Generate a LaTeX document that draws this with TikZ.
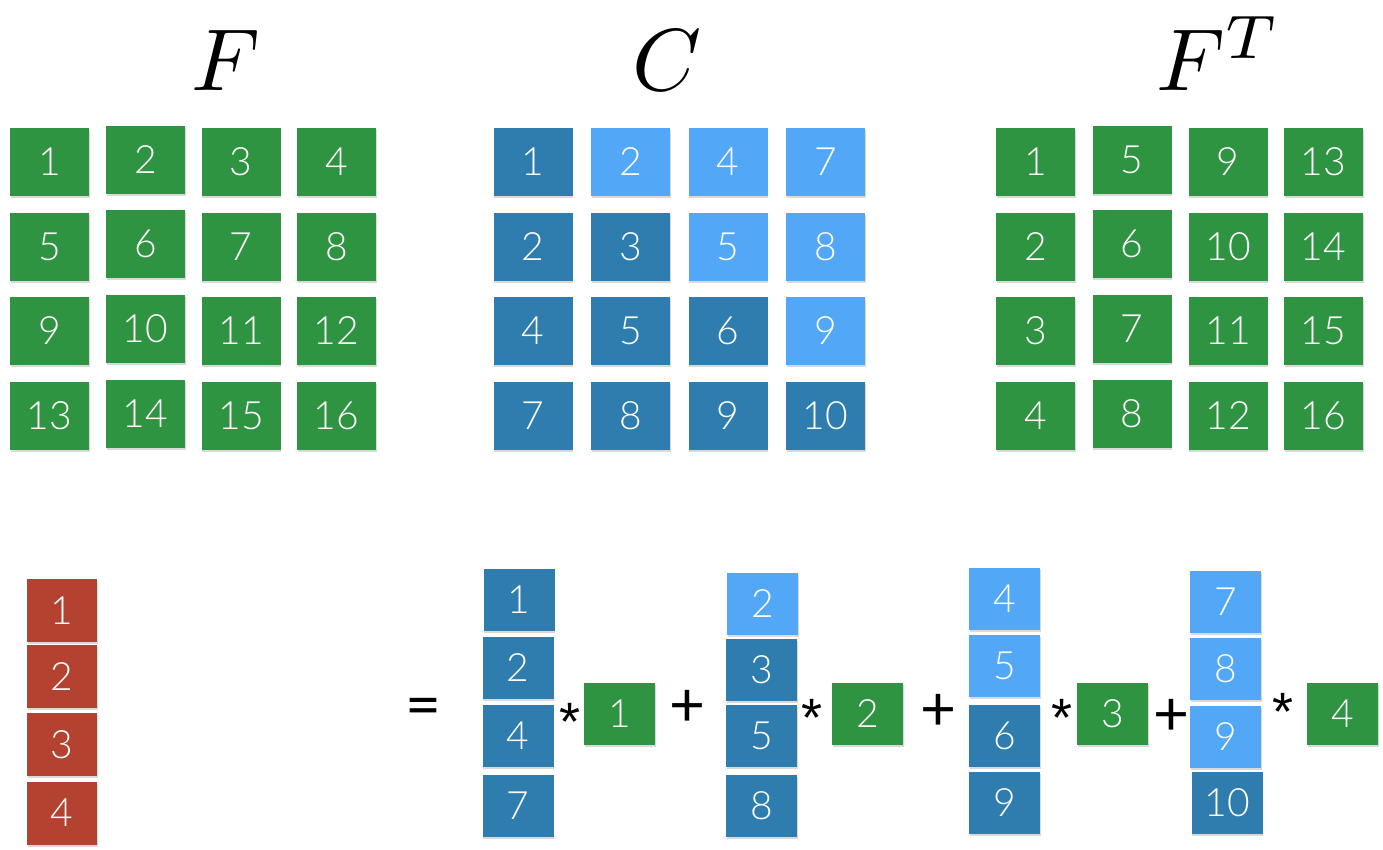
\documentclass[tikz,border=0pt]{standalone}
\usepackage{fontspec}
\newfontfamily\numfont{Lato Light}
\newfontfamily\opfont{Lato}
\newfontfamily\starfont{Liberation Sans}
\usetikzlibrary{shadows}
\definecolor{tgreen}{RGB}{47,148,66}
\definecolor{tdark}{RGB}{46,125,174}
\definecolor{tlight}{RGB}{82,167,247}
\definecolor{tred}{RGB}{180,66,49}
\tikzset{
  tile/.style={minimum width=79pt, minimum height=68pt, inner sep=0pt, text=white,
    font=\numfont\fontsize{39}{39}\selectfont,
    drop shadow={shadow xshift=0.6pt, shadow yshift=-2pt, opacity=0.15, fill=black}},
  small/.style={tile, minimum width=71pt, minimum height=62pt},
  redt/.style={tile, minimum width=70pt, minimum height=63pt, fill=tred},
  grn/.style={fill=tgreen},
  dkb/.style={fill=tdark},
  ltb/.style={fill=tlight},
  title/.style={anchor=base, inner sep=0pt, scale=8.8, transform shape},
  op/.style={inner sep=0pt, font=\opfont\fontsize{62}{62}\selectfont},
  star/.style={inner sep=0pt, font=\starfont\fontsize{54}{54}\selectfont}
}
\begin{document}
\begin{tikzpicture}[x=1pt,y=-1pt]
\useasboundingbox[fill=white] (0,0) rectangle (1383,849);
% titles
\node[title] (tF) at (226,90) {$F$};
\node[title] (tC) at (667,90) {$C$};
\node[title] (tFT) at (1219,90) {$F^T$};
% F matrix
\node[tile,grn] (f1) at (49.5,162) {1};
\node[tile,grn] (f2) at (145.5,159.5) {2};
\node[tile,grn] (f3) at (241,162) {3};
\node[tile,grn] (f4) at (336.5,162) {4};
\node[tile,grn] (f5) at (49.5,246.5) {5};
\node[tile,grn] (f6) at (145.5,244) {6};
\node[tile,grn] (f7) at (241,246.5) {7};
\node[tile,grn] (f8) at (336.5,246.5) {8};
\node[tile,grn] (f9) at (49.5,331) {9};
\node[tile,grn] (f10) at (145.5,328.5) {10};
\node[tile,grn] (f11) at (241,331) {11};
\node[tile,grn] (f12) at (336.5,331) {12};
\node[tile,grn] (f13) at (49.5,416) {13};
\node[tile,grn] (f14) at (145.5,413.5) {14};
\node[tile,grn] (f15) at (241,416) {15};
\node[tile,grn] (f16) at (336.5,416) {16};
% C matrix
\node[tile,dkb] (c11) at (533,162) {1};
\node[tile,ltb] (c12) at (630.5,162) {2};
\node[tile,ltb] (c13) at (728,162) {4};
\node[tile,ltb] (c14) at (825.5,162) {7};
\node[tile,dkb] (c21) at (533,246.5) {2};
\node[tile,dkb] (c22) at (630.5,246.5) {3};
\node[tile,ltb] (c23) at (728,246.5) {5};
\node[tile,ltb] (c24) at (825.5,246.5) {8};
\node[tile,dkb] (c31) at (533,331) {4};
\node[tile,dkb] (c32) at (630.5,331) {5};
\node[tile,dkb] (c33) at (728,331) {6};
\node[tile,ltb] (c34) at (825.5,331) {9};
\node[tile,dkb] (c41) at (533,416) {7};
\node[tile,dkb] (c42) at (630.5,416) {8};
\node[tile,dkb] (c43) at (728,416) {9};
\node[tile,dkb] (c44) at (825.5,416) {10};
% F^T matrix
\node[tile,grn] (t1) at (1035.5,162) {1};
\node[tile,grn] (t2) at (1132,159.5) {5};
\node[tile,grn] (t3) at (1228,162) {9};
\node[tile,grn] (t4) at (1323.5,162) {13};
\node[tile,grn] (t5) at (1035.5,246.5) {2};
\node[tile,grn] (t6) at (1132,244) {6};
\node[tile,grn] (t7) at (1228,246.5) {10};
\node[tile,grn] (t8) at (1323.5,246.5) {14};
\node[tile,grn] (t9) at (1035.5,331) {3};
\node[tile,grn] (t10) at (1132,328.5) {7};
\node[tile,grn] (t11) at (1228,331) {11};
\node[tile,grn] (t12) at (1323.5,331) {15};
\node[tile,grn] (t13) at (1035.5,416) {4};
\node[tile,grn] (t14) at (1132,413.5) {8};
\node[tile,grn] (t15) at (1228,416) {12};
\node[tile,grn] (t16) at (1323.5,416) {16};
% red vector
\node[redt] (r1) at (62,610.5) {1};
\node[redt] (r2) at (62,676.5) {2};
\node[redt] (r3) at (62,744.5) {3};
\node[redt] (r4) at (62,813) {4};
% equation
\node[op] (eq) at (423,712) {=};
\node[small,dkb] (a1) at (519,600) {1};
\node[small,dkb] (a2) at (518,668) {2};
\node[small,dkb] (a3) at (518,736) {4};
\node[small,dkb] (a4) at (518,805.5) {7};
\node[star] (s1) at (570,722) {*};
\node[small,grn] (g1) at (619.5,713.5) {1};
\node[op] (p1) at (687,708) {+};
\node[small,ltb] (b1) at (762.5,603.5) {2};
\node[small,dkb] (b2) at (761.5,669.5) {3};
\node[small,dkb] (b3) at (761.5,736) {5};
\node[small,dkb] (b4) at (761.5,805.5) {8};
\node[star] (s2) at (812,718) {*};
\node[small,grn] (g2) at (867.5,713.5) {2};
\node[op] (p2) at (938,712) {+};
\node[small,ltb] (d1) at (1004.5,599) {4};
\node[small,ltb] (d2) at (1004.5,666) {5};
\node[small,dkb] (d3) at (1004.5,736) {6};
\node[small,dkb] (d4) at (1004.5,803) {9};
\node[star] (s3) at (1062,718) {*};
\node[small,grn] (g3) at (1112.5,714) {3};
\node[op] (p3) at (1171,717) {+};
\node[small,ltb] (e1) at (1225.5,601.5) {7};
\node[small,ltb] (e2) at (1225.5,669) {8};
\node[small,ltb] (e3) at (1225.5,736.5) {9};
\node[small,dkb] (e4) at (1227,803) {10};
\node[star] (s4) at (1283,712) {*};
\node[small,grn] (g4) at (1342.5,714) {4};
\end{tikzpicture}
\end{document}
